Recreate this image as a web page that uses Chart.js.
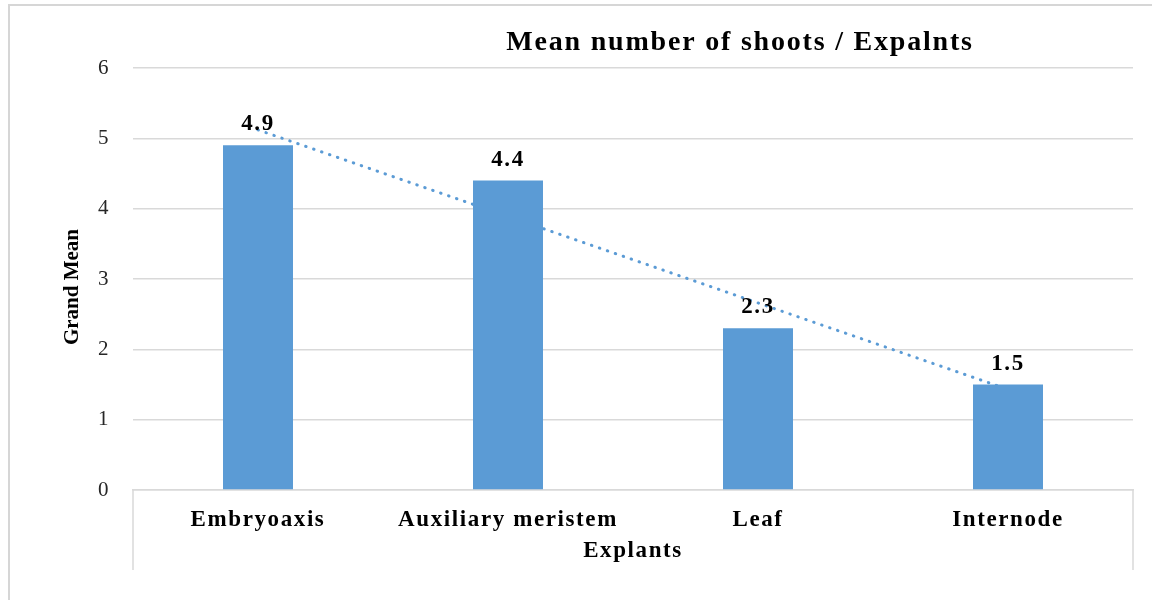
<!DOCTYPE html>
<html>
<head>
<meta charset="utf-8">
<title>Mean number of shoots / Expalnts</title>
<script src="https://cdn.jsdelivr.net/npm/chart.js@4.4.1/dist/chart.umd.min.js"></script>
<style>
  html, body { margin: 0; padding: 0; background: #ffffff; }
  #wrap { width: 1152px; height: 600px; }
</style>
</head>
<body>
<div id="wrap"><canvas id="chart" width="1152" height="600"></canvas></div>
<script>
// ---- data ----
const categories = ['Embryoaxis', 'Auxiliary meristem', 'Leaf', 'Internode'];
const grandMean = [4.9, 4.4, 2.3, 1.5];
const yMin = 0;
const yMax = 6;
const yStep = 1;
const chartTitle = 'Mean number of shoots / Expalnts';
const xAxisTitle = 'Explants';
const yAxisTitle = 'Grand Mean';

// ---- look ----
const SERIF = '"Liberation Serif", "Times New Roman", Times, serif';
const BAR_BLUE = '#5B9BD5';
const GRID_GREY = '#d9d9d9';
const SPACING = '1.6px';

// least-squares linear trend over the category positions (1..n)
function linearTrend(vals) {
  const n = vals.length;
  const xs = vals.map((_, i) => i + 1);
  const mx = xs.reduce((a, b) => a + b, 0) / n;
  const my = vals.reduce((a, b) => a + b, 0) / n;
  let sxy = 0, sxx = 0;
  for (let i = 0; i < n; i++) {
    sxy += (xs[i] - mx) * (vals[i] - my);
    sxx += (xs[i] - mx) * (xs[i] - mx);
  }
  const slope = sxy / sxx;
  const icpt = my - slope * mx;
  return xs.map(x => icpt + slope * x);
}
const trend = linearTrend(grandMean);

// wide lettering for horizontal text
const letterSpacingPlugin = {
  id: 'letterSpacing',
  beforeLayout(chart) { chart.ctx.letterSpacing = SPACING; },
  beforeDraw(chart) { chart.ctx.letterSpacing = SPACING; }
};

// outer frame of the chart object
const framePlugin = {
  id: 'frame',
  beforeDraw(chart) {
    const ctx = chart.ctx;
    ctx.save();
    ctx.strokeStyle = '#d6d6d6';
    ctx.lineWidth = 2;
    ctx.strokeRect(9, 5, chart.width + 40, chart.height + 40);
    ctx.restore();
  }
};

// category-axis side rules below the plot
const axisBoxPlugin = {
  id: 'axisBox',
  afterDraw(chart) {
    const { ctx, chartArea } = chart;
    ctx.save();
    ctx.strokeStyle = GRID_GREY;
    ctx.lineWidth = 1.5;
    ctx.beginPath();
    [chartArea.left, chartArea.right].forEach(x => {
      ctx.moveTo(x, chartArea.bottom);
      ctx.lineTo(x, chartArea.bottom + 80);
    });
    ctx.stroke();
    ctx.restore();
  }
};

// chart title (set right of centre) and the rotated value-axis title
const titlesPlugin = {
  id: 'titles',
  afterDraw(chart) {
    const { ctx, chartArea } = chart;
    ctx.save();
    ctx.fillStyle = '#000000';
    ctx.textAlign = 'center';

    ctx.letterSpacing = '1.8px';
    ctx.font = 'bold 28px ' + SERIF;
    ctx.textBaseline = 'alphabetic';
    const tx = chartArea.left + (chartArea.right - chartArea.left) * 0.607;
    ctx.fillText(chartTitle, tx, chartArea.top - 18);

    ctx.letterSpacing = '0px';
    ctx.font = 'bold 21px ' + SERIF;
    ctx.textBaseline = 'middle';
    ctx.translate(73, (chartArea.top + chartArea.bottom) / 2 + 8);
    ctx.rotate(-Math.PI / 2);
    ctx.fillText(yAxisTitle, 0, 0);
    ctx.restore();
  }
};

// value labels above each bar
const valueLabelPlugin = {
  id: 'valueLabels',
  afterDatasetsDraw(chart) {
    const ctx = chart.ctx;
    const meta = chart.getDatasetMeta(0);
    ctx.save();
    ctx.letterSpacing = SPACING;
    ctx.font = 'bold 23px ' + SERIF;
    ctx.fillStyle = '#000000';
    ctx.textAlign = 'center';
    ctx.textBaseline = 'alphabetic';
    meta.data.forEach((bar, i) => {
      ctx.fillText(grandMean[i].toFixed(1), bar.x, bar.y - 15);
    });
    ctx.restore();
  }
};

new Chart(document.getElementById('chart'), {
  data: {
    labels: categories,
    datasets: [
      {
        type: 'bar',
        label: yAxisTitle,
        data: grandMean,
        backgroundColor: BAR_BLUE,
        borderWidth: 0,
        categoryPercentage: 1.0,
        barPercentage: 0.28,
        order: 1
      },
      {
        type: 'line',
        label: 'Linear trend',
        data: trend,
        borderColor: BAR_BLUE,
        borderWidth: 3,
        borderDash: [0.5, 7.9],
        borderCapStyle: 'round',
        pointRadius: 0,
        fill: false,
        tension: 0,
        order: 2
      }
    ]
  },
  options: {
    responsive: false,
    devicePixelRatio: 1,
    animation: false,
    layout: { padding: { left: 8, right: 19, top: 68, bottom: 0 } },
    plugins: {
      legend: { display: false },
      tooltip: { enabled: false },
      title: { display: false }
    },
    scales: {
      x: {
        grid: { display: false },
        border: { display: true, color: GRID_GREY, width: 1.5 },
        ticks: {
          color: '#000000',
          font: { family: SERIF, size: 23, weight: 'bold' },
          padding: 8,
          maxRotation: 0,
          autoSkip: false
        },
        title: {
          display: true,
          text: xAxisTitle,
          color: '#000000',
          font: { family: SERIF, size: 23, weight: 'bold' },
          padding: { top: 0, bottom: 35 }
        },
        afterFit(scale) { scale.height = 110; }
      },
      y: {
        min: yMin,
        max: yMax,
        grid: { color: GRID_GREY, lineWidth: 1.5, drawTicks: false },
        border: { display: false },
        ticks: {
          stepSize: yStep,
          color: '#262626',
          font: { family: SERIF, size: 21 },
          padding: 23
        },
        afterFit(scale) { scale.width = 125; }
      }
    }
  },
  plugins: [letterSpacingPlugin, framePlugin, axisBoxPlugin, titlesPlugin, valueLabelPlugin]
});
</script>
</body>
</html>
